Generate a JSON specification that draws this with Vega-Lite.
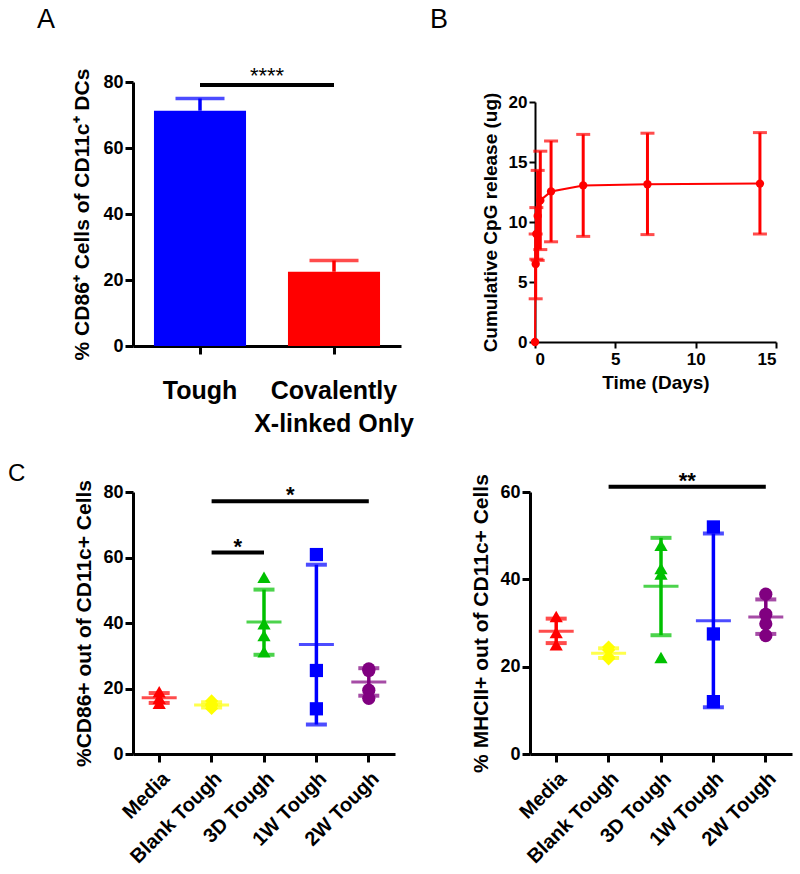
{
  "$schema": "https://vega.github.io/schema/vega-lite/v6.json",
  "background": "white",
  "padding": {"left": 8, "top": 5, "right": 5, "bottom": 5},
  "spacing": 26,
  "resolve": {"scale": {"color": "independent", "shape": "independent"}},
  "config": {
    "font": "Liberation Sans",
    "view": {"stroke": null},
    "axis": {"grid": false, "domainColor": "black", "tickColor": "black", "labelColor": "black", "titleColor": "black", "labelFont": "Liberation Sans", "titleFont": "Liberation Sans", "labelFontWeight": "bold", "titleFontWeight": "bold"},
    "title": {"font": "Liberation Sans", "fontWeight": "normal", "color": "black", "anchor": "start", "frame": "group"}
  },
  "datasets": {
    "barA": [
      {"group": "Tough", "mean": 71.3, "hi": 75.0},
      {"group": "Covalently X-linked Only", "mean": 22.5, "hi": 25.9}
    ],
    "sigA": [{"from": "Tough", "to": "Covalently X-linked Only", "y": 79.1, "label": "****"}],
    "release": [
      {"time": 0, "mean": 0},
      {"time": 0.042, "mean": 6.5, "lo": 3.6, "hi": 9.0},
      {"time": 0.083, "mean": 9.0, "lo": 6.9, "hi": 11.2},
      {"time": 0.167, "mean": 10.5, "lo": 6.8, "hi": 14.3},
      {"time": 0.33, "mean": 11.8, "lo": 7.7, "hi": 15.9},
      {"time": 1, "mean": 12.55, "lo": 8.35, "hi": 16.75},
      {"time": 3, "mean": 13.05, "lo": 8.8, "hi": 17.3},
      {"time": 7, "mean": 13.15, "lo": 8.95, "hi": 17.4},
      {"time": 14, "mean": 13.2, "lo": 9.0, "hi": 17.45}
    ],
    "cd86Points": [
      {"group": "Media", "value": 19.0},
      {"group": "Media", "value": 17.0},
      {"group": "Media", "value": 15.5},
      {"group": "Blank Tough", "value": 16.2},
      {"group": "Blank Tough", "value": 14.8},
      {"group": "Blank Tough", "value": 15.2},
      {"group": "Blank Tough", "value": 13.9},
      {"group": "3D Tough", "value": 54.0},
      {"group": "3D Tough", "value": 39.8},
      {"group": "3D Tough", "value": 36.2},
      {"group": "3D Tough", "value": 31.2},
      {"group": "1W Tough", "value": 60.9},
      {"group": "1W Tough", "value": 25.5},
      {"group": "1W Tough", "value": 13.8},
      {"group": "2W Tough", "value": 26.0},
      {"group": "2W Tough", "value": 25.5},
      {"group": "2W Tough", "value": 19.5},
      {"group": "2W Tough", "value": 17.0}
    ],
    "cd86Summary": [
      {"group": "Media", "mean": 17.2, "lo": 15.6, "hi": 18.6},
      {"group": "Blank Tough", "mean": 15.0, "lo": 14.2, "hi": 15.8},
      {"group": "3D Tough", "mean": 40.3, "lo": 30.3, "hi": 50.2},
      {"group": "1W Tough", "mean": 33.4, "lo": 9.0, "hi": 57.8},
      {"group": "2W Tough", "mean": 22.0, "lo": 17.8, "hi": 26.2}
    ],
    "cd86Sig": [
      {"from": "Blank Tough", "to": "2W Tough", "at": "3D Tough", "y": 77.2, "label": "*"},
      {"from": "Blank Tough", "to": "3D Tough", "at": "Blank Tough", "y": 61.5, "label": "*"}
    ],
    "mhcPoints": [
      {"group": "Media", "value": 31.5},
      {"group": "Media", "value": 27.8},
      {"group": "Media", "value": 25.0},
      {"group": "Blank Tough", "value": 24.5},
      {"group": "Blank Tough", "value": 23.8},
      {"group": "Blank Tough", "value": 22.2},
      {"group": "Blank Tough", "value": 21.8},
      {"group": "3D Tough", "value": 47.8},
      {"group": "3D Tough", "value": 42.5},
      {"group": "3D Tough", "value": 41.2},
      {"group": "3D Tough", "value": 22.1},
      {"group": "1W Tough", "value": 52.0},
      {"group": "1W Tough", "value": 27.5},
      {"group": "1W Tough", "value": 12.0},
      {"group": "2W Tough", "value": 36.6},
      {"group": "2W Tough", "value": 32.0},
      {"group": "2W Tough", "value": 29.8},
      {"group": "2W Tough", "value": 27.1}
    ],
    "mhcSummary": [
      {"group": "Media", "mean": 28.1, "lo": 25.4, "hi": 31.0},
      {"group": "Blank Tough", "mean": 23.1, "lo": 22.0, "hi": 24.2},
      {"group": "3D Tough", "mean": 38.4, "lo": 27.2, "hi": 49.5},
      {"group": "1W Tough", "mean": 30.5, "lo": 10.7, "hi": 50.5},
      {"group": "2W Tough", "mean": 31.4, "lo": 27.5, "hi": 35.4}
    ],
    "mhcSig": [
      {"from": "Blank Tough", "to": "2W Tough", "at": "3D Tough", "y": 61.2, "label": "**"}
    ]
  },
  "vconcat": [
    {
      "spacing": 16,
      "resolve": {"scale": {"color": "independent", "shape": "independent"}},
      "hconcat": [
        {
          "title": {"text": "A", "fontSize": 27, "dx": -96, "offset": 31, "frame": "group"},
          "width": 268,
          "height": 264,
          "layer": [
            {
              "data": {"name": "barA"},
              "mark": {"type": "bar", "width": {"band": 0.687}},
              "encoding": {
                "x": {"field": "group", "type": "nominal", "scale": {"domain": ["Tough", "Covalently X-linked Only"], "paddingInner": 0, "paddingOuter": 0},
                  "axis": {"title": null, "labelAngle": 0, "labelFontSize": 25, "labelExpr": "datum.label == 'Covalently X-linked Only' ? ['Covalently', 'X-linked Only'] : datum.label", "labelLineHeight": 33, "labelBaseline": "middle", "labelAlign": "center", "labelPadding": 36, "tickSize": 8, "tickWidth": 3, "domainWidth": 3}},
                "y": {"field": "mean", "type": "quantitative", "scale": {"domain": [0, 80], "nice": false},
                  "axis": {"values": [0, 20, 40, 60, 80], "title": "% CD86\u207a Cells of CD11c\u207a DCs", "titleFontSize": 21, "titlePadding": 10, "labelFontSize": 18, "labelPadding": 2, "tickSize": 8, "tickWidth": 3, "domainWidth": 3}},
                "color": {"field": "group", "type": "nominal", "scale": {"domain": ["Tough", "Covalently X-linked Only"], "range": ["#0000FF", "#FF0000"]}, "legend": null}
              }
            },
            {
              "data": {"name": "barA"},
              "mark": {"type": "rule", "strokeWidth": 3.5},
              "encoding": {
                "x": {"field": "group", "type": "nominal"},
                "y": {"field": "mean", "type": "quantitative"},
                "y2": {"field": "hi"},
                "color": {"field": "group", "type": "nominal", "legend": null}
              }
            },
            {
              "data": {"name": "barA"},
              "mark": {"type": "tick", "size": 49, "thickness": 3.5, "orient": "horizontal"},
              "encoding": {
                "x": {"field": "group", "type": "nominal"},
                "y": {"field": "hi", "type": "quantitative"},
                "color": {"field": "group", "type": "nominal", "legend": null}
              }
            },
            {
              "data": {"name": "sigA"},
              "mark": {"type": "rule", "strokeWidth": 4, "color": "black"},
              "encoding": {
                "x": {"field": "from", "type": "nominal"},
                "x2": {"field": "to"},
                "y": {"field": "y", "type": "quantitative"}
              }
            },
            {
              "data": {"name": "sigA"},
              "mark": {"type": "text", "fontSize": 22, "baseline": "alphabetic", "dy": -2, "color": "black"},
              "encoding": {
                "x": {"field": "from", "type": "nominal", "bandPosition": 1},
                "y": {"field": "y", "type": "quantitative"},
                "text": {"field": "label"}
              }
            }
          ]
        },
        {
          "title": {"text": "B", "fontSize": 27, "dx": -105, "offset": 48, "frame": "group"},
          "width": 241,
          "height": 264,
          "data": {"name": "release"},
          "layer": [
            {
              "mark": {"type": "line", "color": "#FF0000", "strokeWidth": 2},
              "encoding": {
                "x": {"field": "time", "type": "quantitative", "scale": {"domain": [0, 15], "nice": false},
                  "axis": {"offset": -4, "values": [0, 5, 10, 15], "title": "Time (Days)", "titleFontSize": 19, "titlePadding": 6, "labelFontSize": 17, "labelPadding": 3, "tickSize": 6, "tickWidth": 2, "domainWidth": 2}},
                "y": {"field": "mean", "type": "quantitative", "scale": {"domain": [0, 20], "nice": false, "range": [260, 20]},
                  "axis": {"values": [0, 5, 10, 15, 20], "title": "Cumulative CpG release (ug)", "titleFontSize": 19, "titlePadding": 8, "labelFontSize": 17, "labelPadding": 2, "tickSize": 6, "tickWidth": 2, "domainWidth": 2}}
              }
            },
            {
              "mark": {"type": "rule", "color": "#FF0000", "strokeWidth": 3},
              "encoding": {
                "x": {"field": "time", "type": "quantitative"},
                "y": {"field": "lo", "type": "quantitative"},
                "y2": {"field": "hi"}
              }
            },
            {
              "mark": {"type": "tick", "color": "#FF0000", "size": 14, "thickness": 3, "orient": "horizontal"},
              "encoding": {
                "x": {"field": "time", "type": "quantitative"},
                "y": {"field": "lo", "type": "quantitative"}
              }
            },
            {
              "mark": {"type": "tick", "color": "#FF0000", "size": 14, "thickness": 3, "orient": "horizontal"},
              "encoding": {
                "x": {"field": "time", "type": "quantitative"},
                "y": {"field": "hi", "type": "quantitative"}
              }
            },
            {
              "mark": {"type": "point", "filled": true, "color": "#FF0000", "size": 70, "opacity": 1},
              "encoding": {
                "x": {"field": "time", "type": "quantitative"},
                "y": {"field": "mean", "type": "quantitative"}
              }
            }
          ]
        }
      ]
    },
    {
      "spacing": 75,
      "resolve": {"scale": {"color": "independent", "shape": "independent"}},
      "hconcat": [
        {
          "title": {"text": "C", "fontSize": 24, "dx": -125, "offset": -7, "frame": "group"},
          "width": 262,
          "height": 262,
          "layer": [
            {
              "data": {"name": "cd86Points"},
              "mark": {"type": "point", "filled": true, "size": 175, "opacity": 1, "strokeWidth": 0},
              "encoding": {
                "x": {"field": "group", "type": "nominal", "scale": {"domain": ["Media", "Blank Tough", "3D Tough", "1W Tough", "2W Tough"], "paddingInner": 0, "paddingOuter": 0},
                  "axis": {"title": null, "labelAngle": -45, "labelFontSize": 20, "labelPadding": 6, "tickSize": 8, "tickWidth": 3, "domainWidth": 3}},
                "y": {"field": "value", "type": "quantitative", "scale": {"domain": [0, 80], "nice": false},
                  "axis": {"values": [0, 20, 40, 60, 80], "title": "%CD86+ out of CD11c+ Cells", "titleFontSize": 21, "titlePadding": 8, "labelFontSize": 18, "labelPadding": 2, "tickSize": 8, "tickWidth": 3, "domainWidth": 3}},
                "color": {"field": "group", "type": "nominal", "scale": {"domain": ["Media", "Blank Tough", "3D Tough", "1W Tough", "2W Tough"], "range": ["#FF0000", "#FFFF00", "#00C000", "#0000FF", "#800080"]}, "legend": null},
                "shape": {"field": "group", "type": "nominal", "scale": {"domain": ["Media", "Blank Tough", "3D Tough", "1W Tough", "2W Tough"], "range": ["triangle-up", "diamond", "triangle-up", "square", "circle"]}, "legend": null}
              }
            },
            {
              "data": {"name": "cd86Summary"},
              "mark": {"type": "rule", "strokeWidth": 3.5},
              "encoding": {
                "x": {"field": "group", "type": "nominal"},
                "y": {"field": "lo", "type": "quantitative"},
                "y2": {"field": "hi"},
                "color": {"field": "group", "type": "nominal", "legend": null}
              }
            },
            {
              "data": {"name": "cd86Summary"},
              "mark": {"type": "tick", "size": 21, "thickness": 4, "orient": "horizontal"},
              "encoding": {
                "x": {"field": "group", "type": "nominal"},
                "y": {"field": "lo", "type": "quantitative"},
                "color": {"field": "group", "type": "nominal", "legend": null}
              }
            },
            {
              "data": {"name": "cd86Summary"},
              "mark": {"type": "tick", "size": 21, "thickness": 4, "orient": "horizontal"},
              "encoding": {
                "x": {"field": "group", "type": "nominal"},
                "y": {"field": "hi", "type": "quantitative"},
                "color": {"field": "group", "type": "nominal", "legend": null}
              }
            },
            {
              "data": {"name": "cd86Summary"},
              "mark": {"type": "tick", "size": 35, "thickness": 3, "orient": "horizontal"},
              "encoding": {
                "x": {"field": "group", "type": "nominal"},
                "y": {"field": "mean", "type": "quantitative"},
                "color": {"field": "group", "type": "nominal", "legend": null}
              }
            },
            {
              "data": {"name": "cd86Sig"},
              "mark": {"type": "rule", "strokeWidth": 4, "color": "black"},
              "encoding": {
                "x": {"field": "from", "type": "nominal"},
                "x2": {"field": "to"},
                "y": {"field": "y", "type": "quantitative"}
              }
            },
            {
              "data": {"name": "cd86Sig"},
              "mark": {"type": "text", "fontSize": 22, "fontWeight": "bold", "baseline": "alphabetic", "dy": 1, "color": "black"},
              "encoding": {
                "x": {"field": "at", "type": "nominal", "bandPosition": 1},
                "y": {"field": "y", "type": "quantitative"},
                "text": {"field": "label"}
              }
            }
          ]
        },
        {
          "width": 262,
          "height": 262,
          "layer": [
            {
              "data": {"name": "mhcPoints"},
              "mark": {"type": "point", "filled": true, "size": 175, "opacity": 1, "strokeWidth": 0},
              "encoding": {
                "x": {"field": "group", "type": "nominal", "scale": {"domain": ["Media", "Blank Tough", "3D Tough", "1W Tough", "2W Tough"], "paddingInner": 0, "paddingOuter": 0},
                  "axis": {"title": null, "labelAngle": -45, "labelFontSize": 20, "labelPadding": 6, "tickSize": 8, "tickWidth": 3, "domainWidth": 3}},
                "y": {"field": "value", "type": "quantitative", "scale": {"domain": [0, 60], "nice": false},
                  "axis": {"values": [0, 20, 40, 60], "title": "% MHCII+ out of CD11c+ Cells", "titleFontSize": 21, "titlePadding": 8, "labelFontSize": 18, "labelPadding": 2, "tickSize": 8, "tickWidth": 3, "domainWidth": 3}},
                "color": {"field": "group", "type": "nominal", "scale": {"domain": ["Media", "Blank Tough", "3D Tough", "1W Tough", "2W Tough"], "range": ["#FF0000", "#FFFF00", "#00C000", "#0000FF", "#800080"]}, "legend": null},
                "shape": {"field": "group", "type": "nominal", "scale": {"domain": ["Media", "Blank Tough", "3D Tough", "1W Tough", "2W Tough"], "range": ["triangle-up", "diamond", "triangle-up", "square", "circle"]}, "legend": null}
              }
            },
            {
              "data": {"name": "mhcSummary"},
              "mark": {"type": "rule", "strokeWidth": 3.5},
              "encoding": {
                "x": {"field": "group", "type": "nominal"},
                "y": {"field": "lo", "type": "quantitative"},
                "y2": {"field": "hi"},
                "color": {"field": "group", "type": "nominal", "legend": null}
              }
            },
            {
              "data": {"name": "mhcSummary"},
              "mark": {"type": "tick", "size": 21, "thickness": 4, "orient": "horizontal"},
              "encoding": {
                "x": {"field": "group", "type": "nominal"},
                "y": {"field": "lo", "type": "quantitative"},
                "color": {"field": "group", "type": "nominal", "legend": null}
              }
            },
            {
              "data": {"name": "mhcSummary"},
              "mark": {"type": "tick", "size": 21, "thickness": 4, "orient": "horizontal"},
              "encoding": {
                "x": {"field": "group", "type": "nominal"},
                "y": {"field": "hi", "type": "quantitative"},
                "color": {"field": "group", "type": "nominal", "legend": null}
              }
            },
            {
              "data": {"name": "mhcSummary"},
              "mark": {"type": "tick", "size": 35, "thickness": 3, "orient": "horizontal"},
              "encoding": {
                "x": {"field": "group", "type": "nominal"},
                "y": {"field": "mean", "type": "quantitative"},
                "color": {"field": "group", "type": "nominal", "legend": null}
              }
            },
            {
              "data": {"name": "mhcSig"},
              "mark": {"type": "rule", "strokeWidth": 4, "color": "black"},
              "encoding": {
                "x": {"field": "from", "type": "nominal"},
                "x2": {"field": "to"},
                "y": {"field": "y", "type": "quantitative"}
              }
            },
            {
              "data": {"name": "mhcSig"},
              "mark": {"type": "text", "fontSize": 22, "fontWeight": "bold", "baseline": "alphabetic", "dy": 1, "color": "black"},
              "encoding": {
                "x": {"field": "at", "type": "nominal", "bandPosition": 1},
                "y": {"field": "y", "type": "quantitative"},
                "text": {"field": "label"}
              }
            }
          ]
        }
      ]
    }
  ]
}
